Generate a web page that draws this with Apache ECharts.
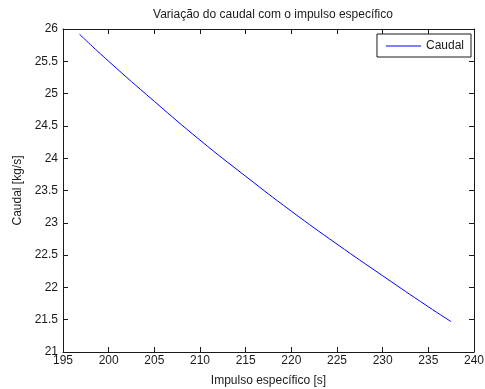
<!DOCTYPE html>
<html>
<head>
<meta charset="utf-8">
<script src="https://cdn.jsdelivr.net/npm/echarts@6/dist/echarts.min.js"></script>
<style>
  html, body { margin: 0; padding: 0; background: #fff; }
  #chart { width: 485px; height: 389px; }
</style>
</head>
<body>
<div id="chart"></div>
<script>
// Specific impulse samples [s] and the corresponding mass flow [kg/s]
const impulso = [196.8, 200, 205, 210, 215, 220, 225, 230, 235, 237.5];
const caudal  = [25.92, 25.50, 24.88, 24.28, 23.72, 23.18, 22.67, 22.18, 21.70, 21.47];

const xTicks = [195, 200, 205, 210, 215, 220, 225, 230, 235, 240];
const yTicks = [21, 21.5, 22, 22.5, 23, 23.5, 24, 24.5, 25, 25.5, 26];

const FONT = 'Liberation Sans, Arial, sans-serif';
const INK = '#1a1a1a';

const chart = echarts.init(document.getElementById('chart'), null, { renderer: 'canvas' });

const boxAxis = {
  axisLine: { show: true, lineStyle: { color: INK, width: 1 } },
  axisTick: { show: true, inside: true, length: 5, lineStyle: { color: INK } },
  splitLine: { show: false }
};

chart.setOption({
  animation: false,
  backgroundColor: '#fff',
  title: {
    text: 'Variação do caudal com o impulso específico',
    left: 268, top: 4, textAlign: 'center',
    textStyle: { fontFamily: FONT, fontSize: 12, fontWeight: 'normal', color: INK }
  },
  grid: { left: 63, right: 11, top: 29, bottom: 37, outerBoundsMode: 'none', containLabel: false },
  legend: {
    right: 14, top: 34,
    orient: 'horizontal',
    backgroundColor: '#fff',
    borderColor: INK, borderWidth: 1, borderRadius: 0,
    padding: [6, 7, 5, 9],
    icon: 'rect', itemWidth: 35, itemHeight: 1, itemGap: 6,
    textStyle: { fontFamily: FONT, fontSize: 12, color: INK },
    data: ['Caudal']
  },
  xAxis: [
    Object.assign({
      type: 'value', position: 'bottom',
      min: xTicks[0], max: xTicks[xTicks.length - 1], interval: 5,
      name: 'Impulso específico [s]', nameLocation: 'middle', nameGap: 23,
      nameTextStyle: { fontFamily: FONT, fontSize: 12, color: INK },
      axisLabel: { fontFamily: FONT, fontSize: 12, color: INK, margin: 3, showMinLabel: true, showMaxLabel: true }
    }, boxAxis),
    Object.assign({
      type: 'value', position: 'top',
      min: xTicks[0], max: xTicks[xTicks.length - 1], interval: 5,
      axisLabel: { show: false }
    }, boxAxis)
  ],
  yAxis: [
    Object.assign({
      type: 'value', position: 'left',
      min: yTicks[0], max: yTicks[yTicks.length - 1], interval: 0.5,
      name: 'Caudal [kg/s]', nameLocation: 'middle', nameGap: 34,
      nameTextStyle: { fontFamily: FONT, fontSize: 12, color: INK },
      axisLabel: { fontFamily: FONT, fontSize: 12, color: INK, margin: 5 }
    }, boxAxis),
    Object.assign({
      type: 'value', position: 'right',
      min: yTicks[0], max: yTicks[yTicks.length - 1], interval: 0.5,
      axisLabel: { show: false }
    }, boxAxis)
  ],
  series: [{
    name: 'Caudal',
    type: 'line',
    xAxisIndex: 0, yAxisIndex: 0,
    data: impulso.map((v, i) => [v, caudal[i]]),
    showSymbol: false,
    smooth: true,
    lineStyle: { color: '#0000ff', width: 1 },
    itemStyle: { color: '#0000ff' }
  }]
});
</script>
</body>
</html>
